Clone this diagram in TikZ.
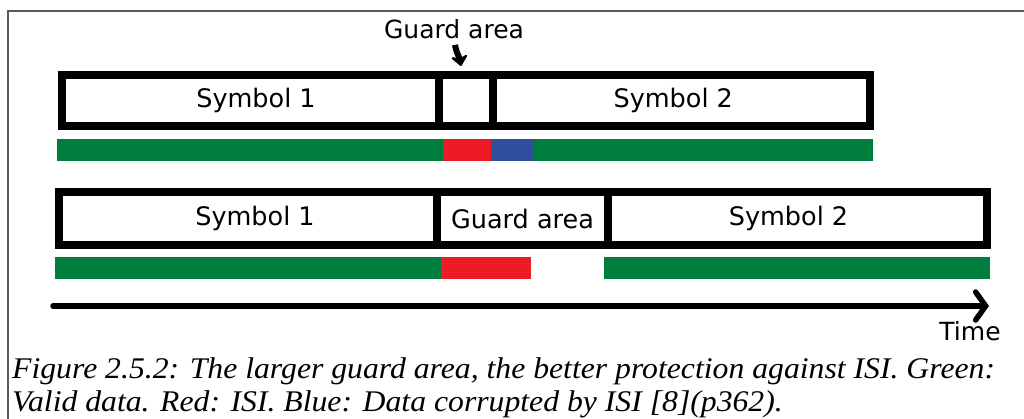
\documentclass[tikz,border=0pt]{standalone}
\usepackage{fontspec}
\setmainfont{Liberation Serif}
\newfontfamily\labelfont{DejaVu Sans}
\usetikzlibrary{arrows.meta}
\usepackage{xcolor}

\definecolor{validgreen}{RGB}{0,126,62}
\definecolor{isired}{RGB}{237,28,36}
\definecolor{corruptblue}{RGB}{46,78,158}
\definecolor{framegray}{RGB}{90,90,90}

\tikzset{
  cell/.style={draw=black, line width=8pt, inner sep=0pt, outer sep=0pt, anchor=west,
    font=\labelfont\fontsize{25.5}{27}\selectfont},
  lbl/.style={inner sep=0pt, font=\labelfont\fontsize{25}{27}\selectfont},
  captext/.style={inner sep=0pt, anchor=base west, font=\itshape\fontsize{30}{33}\selectfont},
}

\begin{document}
\begin{tikzpicture}[x=1pt, y=-1pt]
\useasboundingbox (0,0) rectangle (1024,419);

\draw[framegray, line width=1.6pt] (8,419) |- (1024,11);

\node[lbl] (guardlbl) at (454,29) {Guard area};

\node[cell, minimum width=377pt, minimum height=51.5pt] (syma) at (61.5,100.75) {\hspace*{12pt}Symbol 1};
\node[cell, minimum width=54.5pt, minimum height=51.5pt] (guarda) at (438.5,100.75) {};
\node[cell, minimum width=376.5pt, minimum height=51.5pt] (symb) at (493,100.75) {Symbol 2\hspace*{16pt}};

\fill[validgreen] (57,139) rectangle (443,161);
\fill[isired] (443,139) rectangle (491,161);
\fill[corruptblue] (491,139) rectangle (533,161);
\fill[validgreen] (533,139) rectangle (873,161);

\node[cell, minimum width=378pt, minimum height=52.5pt] (symc) at (59,218.75) {\hspace*{14pt}Symbol 1};
\node[cell, minimum width=171pt, minimum height=52.5pt] (guardb) at (437,218.75) {Guard area};
\node[cell, minimum width=379pt, minimum height=52.5pt] (symd) at (608,218.75) {Symbol 2\hspace*{18pt}};

\fill[validgreen] (55,257) rectangle (441,279);
\fill[isired] (441,257) rectangle (531,279);
\fill[validgreen] (604,257) rectangle (990,279);

\draw[line width=6pt, -{Stealth[round, length=12pt, width=20pt]}]
  (guardlbl.south) ++(1,6) to[out=-80, in=100] (461,66);

\coordinate (tstart) at (53,306);
\coordinate (tend) at (989,306);
\draw[line width=5.5pt, line cap=round, -{Straight Barb[length=10pt, width=28pt, line cap=round]}]
  (tstart) -- (tend);
\node[lbl] (timelbl) at (970,331) {Time};

\node[captext] (capa) at (12,378) {\scalebox{1.057}[1]{Figure 2.5.2: The larger guard area, the better protection against ISI. Green:}};
\node[captext] (capb) at (12,411) {\scalebox{1.057}[1]{Valid data. Red: ISI. Blue: Data corrupted by ISI [8](p362).}};

\end{tikzpicture}
\end{document}
